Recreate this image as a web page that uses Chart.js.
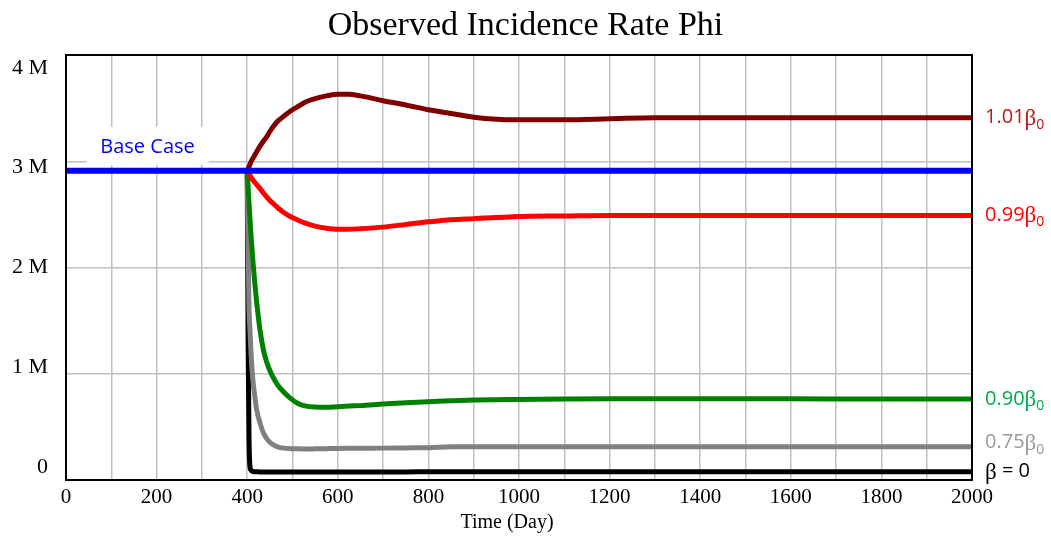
<!DOCTYPE html>
<html>
<head>
<meta charset="utf-8">
<script src="https://cdn.jsdelivr.net/npm/chart.js@4.4.1/dist/chart.umd.min.js"></script>
<style>
html, body { margin: 0; padding: 0; background: #fff; }
</style>
</head>
<body>
<canvas id="myChart" width="1051" height="537"></canvas>
<script>
// values in millions
const baseDays = [0, 2000];
const baseCase = [2.91, 2.91];

const days = [400, 402, 404, 406, 408, 410, 413, 417, 421, 428, 436, 443, 450, 458, 468, 480, 495, 510, 530, 550,
	575, 600, 625, 650, 700, 750, 800, 850, 900, 950, 1000, 1100, 1200, 1300, 1400, 1600, 1800, 2000];
const beta101 = [2.91, 2.93, 2.95, 2.97, 2.99, 3.01, 3.03, 3.06, 3.09, 3.14, 3.19, 3.23, 3.28, 3.33, 3.38, 3.42, 3.47, 3.51, 3.56, 3.59,
	3.615, 3.63, 3.63, 3.615, 3.57, 3.53, 3.485, 3.45, 3.415, 3.395, 3.39, 3.39, 3.40, 3.41, 3.41, 3.41, 3.41, 3.41];
const beta099 = [2.91, 2.895, 2.88, 2.865, 2.85, 2.84, 2.82, 2.80, 2.78, 2.745, 2.70, 2.665, 2.63, 2.60, 2.56, 2.52, 2.48, 2.45, 2.415, 2.39,
	2.37, 2.36, 2.36, 2.365, 2.38, 2.405, 2.43, 2.45, 2.46, 2.47, 2.48, 2.485, 2.49, 2.49, 2.49, 2.49, 2.49, 2.49];
const beta090 = [2.91, 2.76, 2.61, 2.47, 2.33, 2.21, 2.04, 1.84, 1.67, 1.42, 1.22, 1.11, 1.03, 0.96, 0.89, 0.83, 0.77, 0.725, 0.695, 0.686,
	0.684, 0.69, 0.696, 0.70, 0.715, 0.727, 0.737, 0.745, 0.753, 0.756, 0.758, 0.763, 0.765, 0.765, 0.765, 0.765, 0.762, 0.762];
const beta075 = [2.91, 2.2, 1.62, 1.42, 1.24, 1.08, 0.92, 0.78, 0.66, 0.54, 0.44, 0.39, 0.355, 0.33, 0.31, 0.30, 0.295, 0.293, 0.292, 0.293,
	0.295, 0.297, 0.298, 0.299, 0.30, 0.302, 0.304, 0.312, 0.313, 0.313, 0.313, 0.313, 0.313, 0.313, 0.313, 0.313, 0.313, 0.313];
const beta0 = [2.91, 1.3, 0.4, 0.13, 0.095, 0.085, 0.08, 0.078, 0.077, 0.076, 0.076, 0.076, 0.076, 0.076, 0.076, 0.076, 0.076, 0.076, 0.076, 0.076,
	0.076, 0.076, 0.076, 0.076, 0.076, 0.076, 0.077, 0.077, 0.077, 0.077, 0.077, 0.077, 0.077, 0.078, 0.078, 0.078, 0.078, 0.078];

const endNums = ['1.01', '0.99', '0.90', '0.75', ''];
const endSubs = ['0', '0', '0', '0', ''];
const endTails = ['', '', '', '', ' = 0'];
const endColors = ['#c0151b', '#ff0000', '#00a94f', '#9a9a9a', '#000000'];
const endNudge = [0, 0, 0, -4, 0];

const lineColors = ['#800000', '#ff0000', '#008000', '#808080', '#000000'];
const series = [beta101, beta099, beta090, beta075, beta0];

function pts(xs, ys) {
	return xs.map((x, i) => ({ x: x, y: ys[i] }));
}

const datasets = [{
	label: 'Base Case',
	data: pts(baseDays, baseCase),
	borderColor: '#0000ff',
	borderWidth: 6
}];
series.forEach((s, i) => {
	datasets.push({
		label: endNums[i] + 'β' + endSubs[i] + endTails[i],
		data: pts(days, s),
		borderColor: lineColors[i],
		borderWidth: 5,
		cubicInterpolationMode: 'monotone'
	});
});

const sansFont = '"Open Sans", sans-serif';
const serifFont = '"Liberation Serif", "Times New Roman", serif';

const decor = {
	id: 'decor',
	beforeDatasetsDraw(chart) {
		const ctx = chart.ctx;
		const x = chart.scales.x.getPixelForValue(180);
		const y = chart.scales.y.getPixelForValue(baseCase[0]) - 24;
		ctx.save();
		ctx.fillStyle = '#ffffff';
		ctx.fillRect(x - 61, y - 20, 122, 38);
		ctx.fillStyle = '#0000ff';
		ctx.font = '20px ' + sansFont;
		ctx.textAlign = 'center';
		ctx.textBaseline = 'middle';
		ctx.fillText('Base Case', x, y);
		ctx.restore();
	},
	afterDatasetsDraw(chart) {
		const ctx = chart.ctx;
		const a = chart.chartArea;
		const ys = chart.scales.y;
		ctx.save();
		ctx.strokeStyle = '#000000';
		ctx.lineWidth = 2;
		ctx.strokeRect(a.left, a.top, a.right - a.left, a.bottom - a.top);

		// title, centred on the whole picture
		ctx.fillStyle = '#000';
		ctx.textAlign = 'center';
		ctx.textBaseline = 'middle';
		ctx.font = '34px ' + serifFont;
		ctx.fillText('Observed Incidence Rate Phi', chart.width / 2, 26);

		// y tick labels, pulled slightly in toward the middle like the original
		const mid = (a.top + a.bottom) / 2;
		ctx.font = '22px ' + serifFont;
		ctx.textAlign = 'right';
		ys.ticks.forEach(t => {
			const p = ys.getPixelForValue(t.value);
			ctx.fillText(t.value === 0 ? '0' : t.value + ' M', a.left - 18, mid + (p - mid) * 0.94);
		});

		// x axis title
		ctx.textAlign = 'center';
		ctx.font = '20px ' + serifFont;
		ctx.fillText('Time (Day)', (a.left + a.right) / 2 - 12, 523);

		// end labels
		ctx.textAlign = 'left';
		series.forEach((s, i) => {
			let x = a.right + 13;
			const y = ys.getPixelForValue(s[s.length - 1]) + endNudge[i];
			ctx.fillStyle = endColors[i];
			ctx.font = '20px ' + sansFont;
			ctx.fillText(endNums[i], x, y);
			x += ctx.measureText(endNums[i]).width;
			ctx.font = '23px ' + serifFont;
			ctx.fillText('β', x, y + 1);
			x += ctx.measureText('β').width;
			if (endSubs[i]) {
				ctx.font = '14px ' + sansFont;
				ctx.fillText(endSubs[i], x, y + 7);
			}
			if (endTails[i]) {
				ctx.font = '20px ' + sansFont;
				ctx.fillText(endTails[i], x, y);
			}
		});
		ctx.restore();
	}
};

const ctx = document.getElementById('myChart');
const myChart = new Chart(ctx, {
	type: 'line',
	data: { datasets: datasets },
	options: {
		responsive: false,
		animation: false,
		layout: { padding: { left: 0, right: 79, top: 55, bottom: 0 } },
		elements: {
			point: { radius: 0 },
			line: { borderJoinStyle: 'round', tension: 0 }
		},
		plugins: {
			legend: { display: false },
			tooltip: { enabled: false },
			title: { display: false }
		},
		scales: {
			x: {
				type: 'linear',
				min: 0,
				max: 2000,
				border: { display: false },
				grid: { color: '#c0c0c0', lineWidth: 1.5, drawTicks: false },
				ticks: {
					stepSize: 100,
					padding: 5,
					color: '#000',
					maxRotation: 0,
					autoSkip: false,
					font: { family: serifFont, size: 21 },
					callback: v => (v % 200 === 0 ? String(v) : '')
				},
				afterFit: s => { s.height = 57; }
			},
			y: {
				min: 0,
				max: 4,
				border: { display: false },
				grid: { color: '#c0c0c0', lineWidth: 1.5, drawTicks: false },
				ticks: { stepSize: 1, display: false },
				afterFit: s => { s.width = 66; }
			}
		}
	},
	plugins: [decor]
});
</script>
</body>
</html>
